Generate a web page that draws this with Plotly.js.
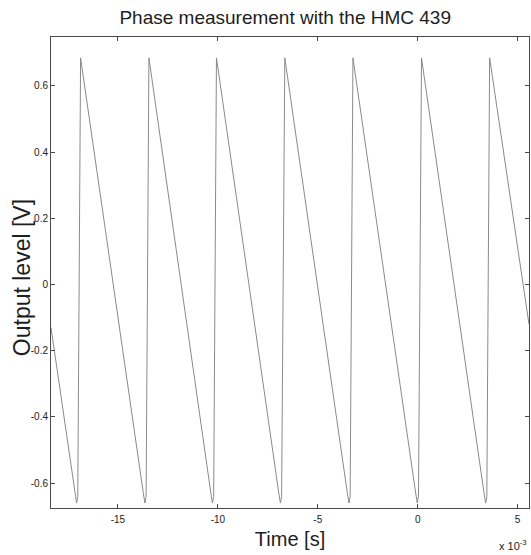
<!DOCTYPE html>
<html>
<head>
<meta charset="utf-8">
<script src="https://cdn.plot.ly/plotly-3.0.1.min.js"></script>
<style>
  html, body { margin: 0; padding: 0; background: #ffffff; }
  #chart { width: 531px; height: 555px; }
</style>
</head>
<body>
<div id="chart"></div>
<script>
// Time axis values are shown in units of 1e-3 s (axis multiplier "x 10^-3")
const timeMs = [
  -18.35,
  -17.15, -17.07, -17.01, -16.87,
  -13.73, -13.65, -13.59, -13.45,
  -10.35, -10.27, -10.21, -10.07,
  -6.95, -6.87, -6.81, -6.65,
  -3.52, -3.44, -3.38, -3.24,
  -0.10, -0.02, 0.04, 0.19,
  3.32, 3.40, 3.46, 3.60,
  5.57
];
const outputV = [
  -0.13,
  -0.63, -0.66, -0.64, 0.685,
  -0.63, -0.66, -0.64, 0.685,
  -0.63, -0.66, -0.64, 0.685,
  -0.63, -0.66, -0.64, 0.685,
  -0.63, -0.66, -0.64, 0.685,
  -0.63, -0.66, -0.64, 0.685,
  -0.63, -0.66, -0.64, 0.685,
  -0.12
];
const xTickVals = [-15, -10, -5, 0, 5];
const xTickText = ['-15', '-10', '-5', '0', '5'];
const yTickVals = [-0.6, -0.4, -0.2, 0, 0.2, 0.4, 0.6];
const yTickText = ['-0.6', '-0.4', '-0.2', '0', '0.2', '0.4', '0.6'];

const FONT = 'Liberation Sans, Arial, Helvetica, sans-serif';

const trace = {
  x: timeMs,
  y: outputV,
  type: 'scatter',
  mode: 'lines',
  line: { color: '#8a8a8a', width: 1 },
  hoverinfo: 'x+y',
  showlegend: false
};

const axisCommon = {
  showline: true,
  linecolor: '#4a4a4a',
  linewidth: 1,
  mirror: 'ticks',
  ticks: 'inside',
  ticklen: 4,
  tickwidth: 1,
  tickcolor: '#4a4a4a',
  showgrid: false,
  zeroline: false,
  tickmode: 'array',
  tickfont: { family: FONT, size: 10, color: '#222222' }
};

const layout = {
  width: 531,
  height: 555,
  margin: { l: 51, r: 2, t: 37, b: 47 },
  paper_bgcolor: '#ffffff',
  plot_bgcolor: '#ffffff',
  font: { family: FONT, color: '#222222' },
  title: {
    text: 'Phase measurement with the HMC 439',
    font: { family: FONT, size: 19, color: '#1e1e1e' },
    xref: 'paper', x: 0.49, xanchor: 'center',
    yref: 'container', y: 0.968, yanchor: 'middle'
  },
  xaxis: Object.assign({}, axisCommon, {
    range: [-18.35, 5.57],
    tickvals: xTickVals,
    ticktext: xTickText,
    ticklabelstandoff: 2,
    title: { text: 'Time [s]', font: { family: FONT, size: 20, color: '#1e1e1e' }, standoff: 7 }
  }),
  yaxis: Object.assign({}, axisCommon, {
    range: [-0.675, 0.748],
    tickvals: yTickVals,
    ticktext: yTickText,
    ticklabelstandoff: 0
  }),
  annotations: [{
    text: 'Output level [V]',
    xref: 'paper', yref: 'paper',
    x: -0.0607, y: 0.49,
    xanchor: 'center', yanchor: 'middle',
    textangle: -90,
    showarrow: false,
    font: { family: FONT, size: 23, color: '#1e1e1e' }
  }, {
    text: 'x 10<sup>-3</sup>',
    xref: 'paper', yref: 'paper',
    x: 0.9665, y: -0.078,
    xanchor: 'center', yanchor: 'middle',
    showarrow: false,
    font: { family: FONT, size: 11, color: '#222222' }
  }]
};

Plotly.newPlot('chart', [trace], layout, { displayModeBar: false, staticPlot: true });
</script>
</body>
</html>
